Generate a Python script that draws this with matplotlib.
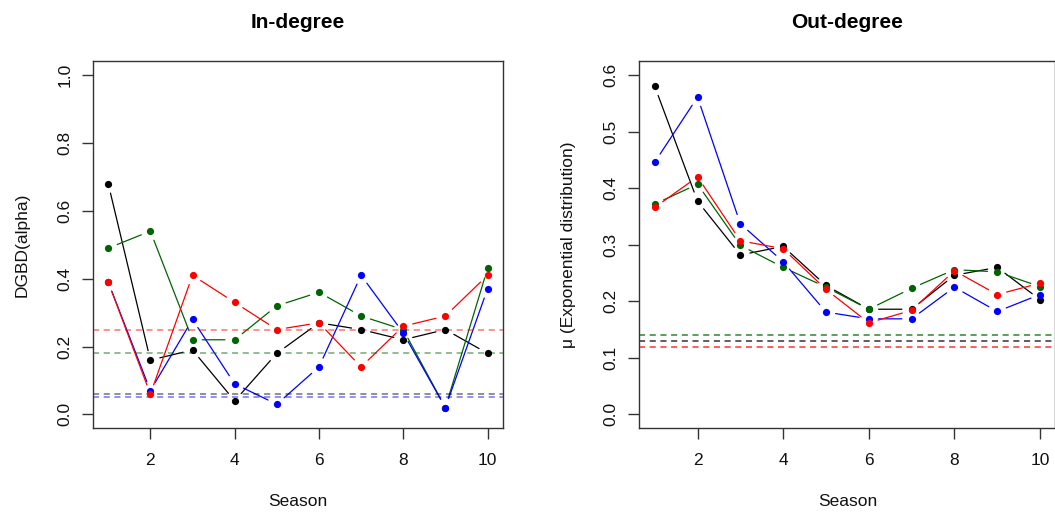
import matplotlib
matplotlib.use("Agg")
import matplotlib.pyplot as plt
from matplotlib.patches import FancyArrowPatch
import numpy as np

plt.rcParams['font.family'] = ['Liberation Sans', 'DejaVu Sans']

seasons = np.arange(1, 11)

# In-degree: DGBD alpha per season
in_black = [0.68, 0.16, 0.19, 0.04, 0.18, 0.27, 0.25, 0.22, 0.25, 0.18]
in_green = [0.49, 0.54, 0.22, 0.22, 0.32, 0.36, 0.29, 0.25, 0.02, 0.43]
in_blue = [0.39, 0.07, 0.28, 0.09, 0.03, 0.14, 0.41, 0.24, 0.02, 0.37]
in_red = [0.39, 0.06, 0.41, 0.33, 0.25, 0.27, 0.14, 0.26, 0.29, 0.41]
in_ref = {"black": 0.06, "darkgreen": 0.18, "blue": 0.05, "red": 0.25}

# Out-degree: exponential mu per season
out_black = [0.580, 0.377, 0.282, 0.297, 0.228, 0.186, 0.186, 0.246, 0.260, 0.203]
out_green = [0.372, 0.407, 0.299, 0.260, 0.225, 0.186, 0.223, 0.256, 0.252, 0.226]
out_blue = [0.446, 0.561, 0.337, 0.270, 0.181, 0.169, 0.169, 0.225, 0.182, 0.212]
out_red = [0.366, 0.420, 0.307, 0.293, 0.221, 0.162, 0.184, 0.254, 0.212, 0.232]
out_ref = {"darkgreen": 0.14, "black": 0.13, "red": 0.12}


def type_b(ax, x, y, col):
    # R style type="b": points joined by segments that stop short of the points
    for i in range(len(x) - 1):
        seg = FancyArrowPatch((x[i], y[i]), (x[i + 1], y[i + 1]),
                              arrowstyle="-", color=col, lw=0.9,
                              shrinkA=7, shrinkB=7)
        ax.add_patch(seg)
    ax.plot(x, y, ls="none", marker="o", ms=5.2, color=col, mec=col, mew=0)


def style_axes(ax, ylim, yticks):
    ax.set_xlim(0.64, 10.36)
    ax.set_ylim(ylim)
    ax.set_xticks([2, 4, 6, 8, 10])
    ax.set_yticks(yticks)
    ax.set_yticklabels(["%.1f" % t for t in yticks], rotation=90, va="center")
    ax.tick_params(axis="both", direction="out", length=8, width=1,
                   color="#333333", labelsize=12.5, labelcolor="#111111")
    ax.tick_params(axis="x", pad=10)
    ax.tick_params(axis="y", pad=7)
    for s in ax.spines.values():
        s.set_color("#333333")
        s.set_linewidth(1)
    ax.set_xlabel("Season", fontsize=12.5, labelpad=19, color="#111111")


fig = plt.figure(figsize=(10.55, 5.14), dpi=100)
ax1 = fig.add_axes([0.0882, 0.1673, 0.3883, 0.7131])
ax2 = fig.add_axes([0.606, 0.1673, 0.3944, 0.7131])

# left panel
for col, v in in_ref.items():
    ax1.axhline(v, color=col, ls=(0, (4, 3)), lw=1.1, alpha=0.55)
for y, col in [(in_black, "black"), (in_green, "darkgreen"),
               (in_blue, "blue"), (in_red, "red")]:
    type_b(ax1, seasons, y, col)
style_axes(ax1, (-0.04, 1.04), [0.0, 0.2, 0.4, 0.6, 0.8, 1.0])
ax1.set_ylabel("DGBD(alpha)", fontsize=12.5, labelpad=20, color="#111111")
ax1.set_title("In-degree", fontsize=15, fontweight="bold", pad=24)

# right panel
for col, v in out_ref.items():
    ax2.axhline(v, color=col, ls=(0, (4, 3)), lw=1.1, alpha=0.8)
for y, col in [(out_black, "black"), (out_green, "darkgreen"),
               (out_blue, "blue"), (out_red, "red")]:
    type_b(ax2, seasons, y, col)
style_axes(ax2, (-0.024, 0.624), [0.0, 0.1, 0.2, 0.3, 0.4, 0.5, 0.6])
ax2.set_ylabel("\u03bc (Exponential distribution)", fontsize=12.5, labelpad=20,
               color="#111111")
ax2.set_title("Out-degree", fontsize=15, fontweight="bold", pad=24)

fig.savefig("out.png", dpi=100)
